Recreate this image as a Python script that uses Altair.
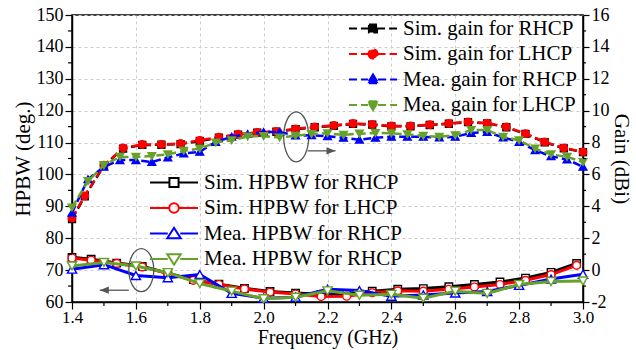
import altair as alt
import pandas as pd

# ---------------- data ----------------
sim_freq = [1.40, 1.44, 1.50, 1.56, 1.62, 1.68, 1.74, 1.80, 1.86, 1.92, 1.98, 2.04, 2.10, 2.16,
            2.22, 2.28, 2.34, 2.40, 2.46, 2.52, 2.58, 2.64, 2.70, 2.76, 2.82, 2.88, 2.94, 3.00]
sim_gain_rhcp = [3.20, 4.62, 6.55, 7.62, 7.85, 7.86, 7.90, 8.10, 8.30, 8.50, 8.62, 8.68, 8.84, 8.96,
                 9.05, 9.17, 9.12, 9.02, 9.02, 9.10, 9.18, 9.28, 9.20, 8.96, 8.54, 8.02, 7.64, 7.40]
sim_gain_lhcp = [3.26, 4.66, 6.58, 7.66, 7.88, 7.88, 7.94, 8.14, 8.34, 8.52, 8.64, 8.70, 8.86, 8.98,
                 9.08, 9.20, 9.14, 9.04, 9.04, 9.12, 9.20, 9.30, 9.22, 8.98, 8.56, 8.04, 7.66, 7.42]

mea_freq = [1.40, 1.45, 1.50, 1.55, 1.60, 1.65, 1.70, 1.75, 1.80, 1.85, 1.90, 1.95, 2.00, 2.05,
            2.10, 2.15, 2.20, 2.25, 2.30, 2.35, 2.40, 2.45, 2.50, 2.55, 2.60, 2.65, 2.70, 2.75,
            2.80, 2.85, 2.90, 2.95, 3.00]
mea_gain_rhcp = [3.60, 5.70, 6.48, 6.90, 6.90, 6.78, 7.06, 7.32, 7.42, 8.04, 8.36, 8.54, 8.66, 8.66,
                 8.44, 8.46, 8.40, 8.30, 8.18, 8.30, 8.36, 8.36, 8.36, 8.32, 8.36, 8.60, 8.66, 8.32,
                 8.04, 7.52, 7.14, 6.94, 6.48]
mea_gain_lhcp = [3.92, 5.58, 6.58, 7.10, 7.10, 7.16, 7.26, 7.48, 7.62, 8.00, 8.14, 8.38, 8.40, 8.32,
                 8.42, 8.54, 8.58, 8.48, 8.56, 8.60, 8.58, 8.52, 8.42, 8.36, 8.46, 8.78, 8.78, 8.36,
                 8.14, 7.62, 7.26, 7.10, 6.78]

sim_hpbw_freq = [1.40, 1.46, 1.54, 1.62, 1.70, 1.78, 1.86, 1.94, 2.02, 2.10, 2.18, 2.26, 2.34,
                 2.42, 2.50, 2.58, 2.66, 2.74, 2.82, 2.90, 2.98]
sim_hpbw_rhcp = [74.0, 73.4, 72.2, 71.2, 69.0, 67.0, 65.6, 64.3, 63.3, 62.8, 62.4, 62.6, 63.4,
                 64.0, 64.2, 64.8, 65.5, 66.3, 67.5, 69.3, 72.1]
sim_hpbw_lhcp = [73.8, 73.1, 72.1, 71.0, 68.9, 66.8, 65.5, 64.1, 63.1, 62.5, 61.7, 61.8, 62.9,
                 63.5, 63.4, 64.0, 64.7, 65.5, 66.8, 68.6, 71.5]

mea_hpbw_freq = [1.4, 1.5, 1.6, 1.7, 1.8, 1.9, 2.0, 2.1, 2.2, 2.3, 2.4, 2.5, 2.6, 2.7, 2.8, 2.9, 3.0]
mea_hpbw_rhcp = [70.3, 71.7, 68.3, 67.6, 68.6, 62.7, 61.2, 61.5, 64.0, 63.6, 61.8, 62.2, 62.8,
                 63.3, 65.2, 67.2, 68.7]
mea_hpbw_lhcp = [71.3, 72.4, 71.3, 69.2, 65.8, 63.4, 61.0, 61.5, 63.5, 62.1, 62.4, 61.2, 63.4,
                 62.7, 65.5, 66.4, 66.6]

gain_names = ["Sim. gain for RHCP", "Sim. gain for LHCP", "Mea. gain for RHCP", "Mea. gain for LHCP"]
hpbw_names = ["Sim. HPBW for RHCP", "Sim. HPBW for LHCP", "Mea. HPBW for RHCP", "Mea. HPBW for RHCP "]
colors = ["#000000", "#ff0000", "#0000ff", "#66a22a"]

# axis ticks (major labelled, minor unlabelled)
x_major = [1.4, 1.6, 1.8, 2.0, 2.2, 2.4, 2.6, 2.8, 3.0]
x_minor = [1.5, 1.7, 1.9, 2.1, 2.3, 2.5, 2.7, 2.9]
hpbw_major = [60, 70, 80, 90, 100, 110, 120, 130, 140, 150]
hpbw_minor = [65, 75, 85, 95, 105, 115, 125, 135, 145]
gain_major = [-2, 0, 2, 4, 6, 8, 10, 12, 14, 16]
gain_minor = [-1, 1, 3, 5, 7, 9, 11, 13, 15]

# annotation positions (data units)
ellipse_freq = [2.102, 1.617]
ellipse_hpbw = [111.8, 70.0]
arrow_from = [2.138, 1.578]
arrow_to = [2.225, 1.487]
arrow_hpbw = [107.4, 63.7]

# ---------------- tables ----------------
gain_df = pd.concat([
    pd.DataFrame({"freq": sim_freq, "gain": sim_gain_rhcp, "series": gain_names[0]}),
    pd.DataFrame({"freq": sim_freq, "gain": sim_gain_lhcp, "series": gain_names[1]}),
    pd.DataFrame({"freq": mea_freq, "gain": mea_gain_rhcp, "series": gain_names[2]}),
    pd.DataFrame({"freq": mea_freq, "gain": mea_gain_lhcp, "series": gain_names[3]}),
], ignore_index=True)
hpbw_df = pd.concat([
    pd.DataFrame({"freq": sim_hpbw_freq, "hpbw": sim_hpbw_rhcp, "series": hpbw_names[0]}),
    pd.DataFrame({"freq": sim_hpbw_freq, "hpbw": sim_hpbw_lhcp, "series": hpbw_names[1]}),
    pd.DataFrame({"freq": mea_hpbw_freq, "hpbw": mea_hpbw_rhcp, "series": hpbw_names[2]}),
    pd.DataFrame({"freq": mea_hpbw_freq, "hpbw": mea_hpbw_lhcp, "series": hpbw_names[3]}),
], ignore_index=True)
ell_df1 = pd.DataFrame({"freq": [ellipse_freq[0]], "hpbw": [ellipse_hpbw[0]]})
ell_df2 = pd.DataFrame({"freq": [ellipse_freq[1]], "hpbw": [ellipse_hpbw[1]]})
arr_df1 = pd.DataFrame({"freq": [arrow_from[0]], "f1": [arrow_to[0]], "hpbw": [arrow_hpbw[0]]})
arr_df2 = pd.DataFrame({"freq": [arrow_from[1]], "f1": [arrow_to[1]], "hpbw": [arrow_hpbw[1]]})
xminor_df = pd.DataFrame({"freq": x_minor})
hminor_df = pd.DataFrame({"hpbw": hpbw_minor})
gminor_df = pd.DataFrame({"gain": gain_minor})

W, H = 511, 287
FONT = "Liberation Serif"
xscale = alt.Scale(domain=[1.4, 3.0], nice=False, zero=False)
hscale = alt.Scale(domain=[60, 150], nice=False, zero=False)
gscale = alt.Scale(domain=[-2, 16], nice=False, zero=False)

x_axis = alt.Axis(
    title="Frequency (GHz)", values=x_major, format=".1f", tickSize=7,
    labelFontSize=17, titleFontSize=20,
    grid=True, labelPadding=0, titlePadding=2, labelFlush=False, labelOverlap=False,
)
h_axis = alt.Axis(
    orient="left", title="HPBW (deg.)", values=hpbw_major, tickSize=7,
    grid=True, labelPadding=2, titlePadding=3, labelOverlap=False, labelFlush=False,
)
g_axis = alt.Axis(
    orient="right", title="Gain (dBi)", values=gain_major, tickSize=6,
    labelExpr="datum.value < 0 ? '-' + abs(datum.value) : '' + datum.value",
    grid=False, labelPadding=2, titlePadding=1, labelOverlap=False, labelFlush=False,
)


def X(field="freq"):
    return alt.X(f"{field}:Q", scale=xscale, axis=x_axis)


def Yh(field="hpbw"):
    return alt.Y(f"{field}:Q", scale=hscale, axis=h_axis)


def Yg(field="gain"):
    return alt.Y(f"{field}:Q", scale=gscale, axis=g_axis)


def series_layers(df, yenc, names, shapes, filled, dash, sw, msizes):
    layers = []
    for name, col, shp, ms in zip(names, colors, shapes, msizes):
        base = alt.Chart(df).transform_filter(alt.datum.series == name)
        lkw = dict(color=col, strokeWidth=sw)
        if dash:
            lkw["strokeDash"] = dash
        line = base.mark_line(**lkw).encode(x=X(), y=yenc())
        pts = base.mark_point(
            shape=shp, filled=True, fill=col if filled else "white", stroke=col,
            strokeWidth=1.4, size=ms, opacity=1,
        ).encode(x=X(), y=yenc())
        layers += [line, pts]
    return layers


# legend symbol paths (line + marker), unit coordinates
gain_paths = [
    "M-1,0H-0.17M0.17,0H1M-0.17,-0.17H0.17V0.17H-0.17Z",
    "M-1,0H-0.19M0.19,0H1M-0.19,0A0.19 0.19 0 1 0 0.19 0A0.19 0.19 0 1 0 -0.19 0Z",
    "M-1,0H-0.21M0.21,0H1M0,-0.21L0.23,0.16L-0.23,0.16Z",
    "M-1,0H-0.21M0.21,0H1M0,0.21L0.23,-0.16L-0.23,-0.16Z",
]
hpbw_paths = [
    "M-1,0H-0.19M0.19,0H1M-0.19,-0.19H0.19V0.19H-0.19Z",
    "M-1,0H-0.2M0.2,0H1M-0.2,0A0.2 0.2 0 1 0 0.2 0A0.2 0.2 0 1 0 -0.2 0Z",
    "M-1,0H-0.26M0.26,0H1M0,-0.24L0.28,0.2L-0.28,0.2Z",
    "M-1,0H-0.26M0.26,0H1M0,0.24L0.28,-0.2L-0.28,-0.2Z",
]


def make_legend(lx, ly, dash):
    kw = dict(
        title=None, orient="none", legendX=lx, legendY=ly, symbolSize=2304,
        symbolStrokeWidth=2, symbolOpacity=1, clipHeight=25, rowPadding=0.5,
        labelFont=FONT, labelFontSize=21, labelColor="black", labelOffset=5,
        labelLimit=400, padding=0,
    )
    if dash:
        kw["symbolDash"] = dash
    return alt.Legend(**kw)


gleg = make_legend(276, 1, [8, 4])
hleg = make_legend(77, 155, None)

gain_legend_layer = alt.Chart(gain_df).mark_point(opacity=0, filled=True).encode(
    x=X(), y=Yg(),
    fill=alt.Fill("series:N", scale=alt.Scale(domain=gain_names, range=colors), legend=gleg),
    stroke=alt.Stroke("series:N", scale=alt.Scale(domain=gain_names, range=colors), legend=gleg),
    shape=alt.Shape("series:N", scale=alt.Scale(domain=gain_names, range=gain_paths), legend=gleg),
)
hpbw_legend_layer = alt.Chart(hpbw_df).mark_point(opacity=0).encode(
    x=X(), y=Yh(),
    stroke=alt.Stroke("series:N", scale=alt.Scale(domain=hpbw_names, range=colors), legend=hleg),
    shape=alt.Shape("series:N", scale=alt.Scale(domain=hpbw_names, range=hpbw_paths), legend=hleg),
)

# minor ticks (positions from the axis scales)
x_minor_ticks = alt.Chart(xminor_df).mark_rule(color="black", strokeWidth=1.2).encode(
    x=X(), y=alt.value(H), y2=alt.value(H + 4))
h_minor_ticks = alt.Chart(hminor_df).mark_rule(color="black", strokeWidth=1.2).encode(
    y=Yh(), x=alt.value(-4), x2=alt.value(0))
g_minor_ticks = alt.Chart(gminor_df).mark_rule(color="black", strokeWidth=1.2).encode(
    y=Yg(), x=alt.value(W), x2=alt.value(W + 3))

# annotations
ANN = "#555555"
ell1 = alt.Chart(ell_df1).mark_point(
    shape="M0,-1A0.5 1 0 1 1 0 1A0.5 1 0 1 1 0 -1Z", size=2500, filled=False,
    stroke=ANN, strokeWidth=1.3, opacity=1,
).encode(x=X(), y=Yh())
ell2 = alt.Chart(ell_df2).mark_point(
    shape="M0,-1A0.58 1 0 1 1 0 1A0.58 1 0 1 1 0 -1Z", size=1849, filled=False,
    stroke=ANN, strokeWidth=1.3, opacity=1,
).encode(x=X(), y=Yh())
arrow_layers = []
for adf, head in [(arr_df1, "M0,0L-2,-0.8L-2,0.8Z"), (arr_df2, "M0,0L2,-0.8L2,0.8Z")]:
    arrow_layers.append(alt.Chart(adf).mark_rule(color=ANN, strokeWidth=1.3).encode(
        x=X(), x2="f1:Q", y=Yh()))
    arrow_layers.append(alt.Chart(adf).mark_point(
        shape=head, size=81, filled=True, fill=ANN, strokeWidth=0, opacity=1).encode(
        x=X("f1"), y=Yh()))

hpbw_layers = series_layers(hpbw_df, Yh, hpbw_names,
                            ["square", "circle", "triangle-up", "triangle-down"],
                            False, None, 3, [55, 60, 85, 85])
gain_layers = series_layers(gain_df, Yg, gain_names,
                            ["square", "circle", "triangle-up", "triangle-down"],
                            True, [8, 4], 2.5, [48, 55, 60, 60])

hpbw_grp = alt.layer(*hpbw_layers, ell1, ell2, *arrow_layers, x_minor_ticks, h_minor_ticks,
                     hpbw_legend_layer)
gain_grp = alt.layer(*gain_layers, g_minor_ticks, gain_legend_layer)

chart = alt.layer(hpbw_grp, gain_grp).resolve_scale(
    y="independent", fill="independent", stroke="independent", shape="independent"
).properties(
    width=W, height=H,
    autosize=alt.AutoSizeParams(type="none"),
    padding={"left": 72, "top": 15, "right": 53, "bottom": 48},
    background="white",
).configure_view(
    stroke="black", strokeWidth=1.5
).configure_axis(
    labelFont=FONT, labelFontSize=18, labelColor="black",
    titleFont=FONT, titleFontSize=21, titleFontWeight="normal", titleColor="black",
    domainColor="black", domainWidth=1.5, tickColor="black", tickWidth=1.2,
    gridColor="#cccccc", gridDash=[3, 3], gridWidth=1,
)

chart.save("out.html", embed_options={"renderer": "svg", "actions": False})
